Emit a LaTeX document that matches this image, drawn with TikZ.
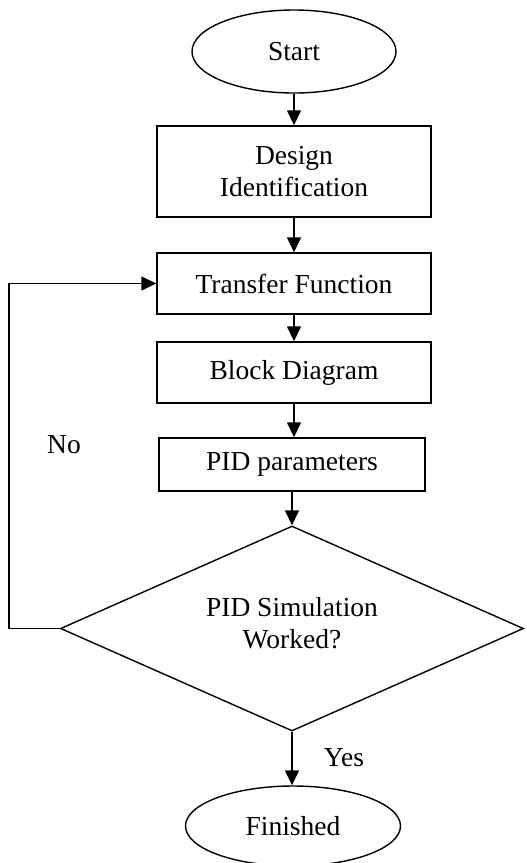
\documentclass[tikz,border=0pt]{standalone}
\usepackage{fontspec}
\setmainfont{Liberation Serif}
\usetikzlibrary{arrows.meta,shapes.geometric}

\tikzset{
  flowline/.style={line width=1.4pt, draw=black},
  arr/.style={flowline, -{Triangle[length=15pt,width=14pt]}},
  terminal/.style={ellipse, flowline, inner sep=0pt, font=\fontsize{27.5}{32}\selectfont},
  stepbox/.style={rectangle, flowline, inner sep=0pt, align=center, font=\fontsize{27.5}{32}\selectfont},
  decision/.style={diamond, flowline, inner sep=0pt, aspect=2.25},
  lbl/.style={inner sep=0pt, align=center, font=\fontsize{27.5}{32}\selectfont}
}

\begin{document}
\begin{tikzpicture}[x=1pt, y=-1pt]
  \useasboundingbox (0,0) rectangle (527,863);

  % process column
  \node[terminal, minimum width=204pt, minimum height=83pt] (start) at (294,51.5) {Start};
  \node[stepbox, minimum width=274pt, minimum height=91pt] (design) at (294,171.5) {Design\\Identification};
  \node[stepbox, minimum width=274pt, minimum height=61pt] (tf) at (294,283.5) {Transfer Function};
  \node[stepbox, minimum width=274pt, minimum height=61pt] (block) at (294,372.5) {Block Diagram};
  \node[stepbox, minimum width=266pt, minimum height=53pt] (pid) at (292,464.5) {PID parameters};
  \node[decision, minimum width=463pt, minimum height=205pt] (dec) at (292,628.5) {};
  \node[lbl] (dectext) at (292,623) {PID Simulation\\Worked?};
  \node[terminal, minimum width=215pt, minimum height=80pt] (finish) at (293,826) {Finished};

  % branch labels
  \node[lbl] (no) at (64,445) {No};
  \node[lbl] (yes) at (344,758) {Yes};

  % feedback path corner
  \coordinate (loopcorner) at (9,628.5);

  % connectors
  \draw[arr] (start.south) -- (start.south |- design.north);
  \draw[arr] (design.south) -- (design.south |- tf.north);
  \draw[arr] (tf.south) -- (tf.south |- block.north);
  \draw[arr] (block.south) -- (block.south |- pid.north);
  \draw[arr] (pid.south) -- (dec.north);
  \draw[arr] (dec.south) -- (dec.south |- finish.north);
  \draw[arr] (dec.west) -- (loopcorner) |- (tf.west);
\end{tikzpicture}
\end{document}
